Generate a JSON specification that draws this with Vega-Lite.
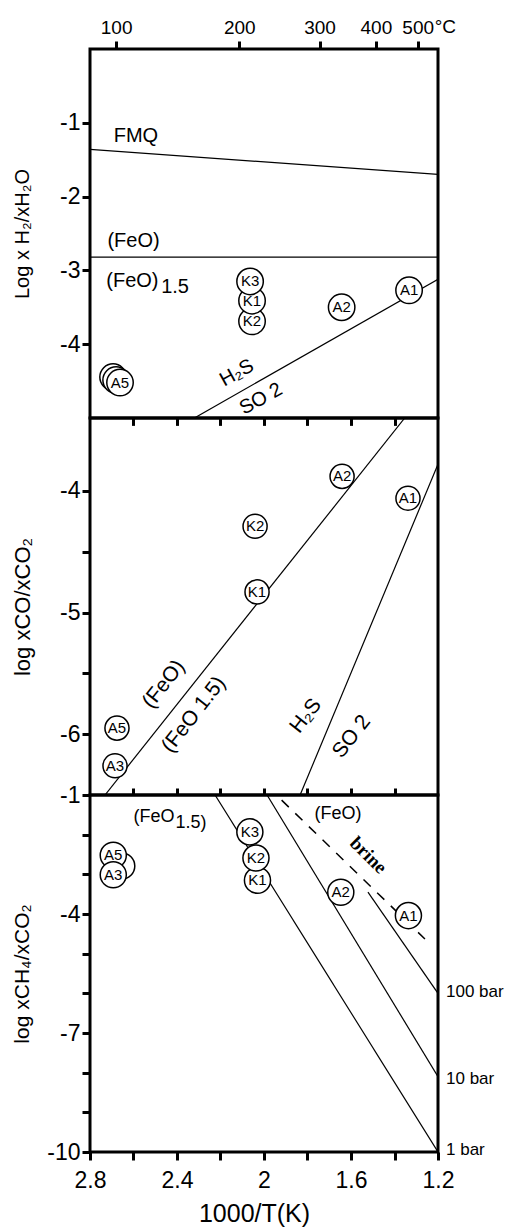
{
  "$schema": "https://vega.github.io/schema/vega-lite/v6.json",
  "background": "white",
  "padding": {"left": 9, "top": 16, "right": 0, "bottom": 0},
  "spacing": 0,
  "bounds": "flush",
  "resolve": {"scale": {"x": "independent", "y": "independent"}},
  "config": {
    "view": {"stroke": "black", "strokeWidth": 3},
    "font": "Liberation Sans",
    "axis": {"grid": false, "domain": false, "tickColor": "black", "tickWidth": 3, "tickSize": 8, "labelColor": "black", "titleColor": "black", "labelFont": "Liberation Sans", "titleFont": "Liberation Sans", "labelFontSize": 23, "titleFontWeight": "normal", "labelOverlap": false, "labelFlush": false, "labelPadding": 2}
  },
  "datasets": {
    "lines1": [
      {"id": "FMQ", "x": 2.8, "y": -1.36}, {"id": "FMQ", "x": 1.2, "y": -1.70},
      {"id": "FeO", "x": 2.8, "y": -2.82}, {"id": "FeO", "x": 1.2, "y": -2.82},
      {"id": "S", "x": 2.32, "y": -5}, {"id": "S", "x": 1.2, "y": -3.12}
    ],
    "pts1": [
      {"x": 2.694, "y": -4.445, "label": ""},
      {"x": 2.680, "y": -4.486, "label": ""},
      {"x": 2.662, "y": -4.52, "label": "A5"},
      {"x": 2.055, "y": -3.69, "label": "K2"},
      {"x": 2.055, "y": -3.41, "label": "K1"},
      {"x": 2.064, "y": -3.15, "label": "K3"},
      {"x": 1.643, "y": -3.50, "label": "A2"},
      {"x": 1.333, "y": -3.27, "label": "A1"}
    ],
    "lab1": [
      {"x": 2.589, "y": -1.18, "text": "FMQ"},
      {"x": 2.60, "y": -2.60, "text": "(FeO)"},
      {"x": 2.605, "y": -3.15, "text": "(FeO)"},
      {"x": 2.409, "y": -3.23, "text": "1.5"}
    ],
    "rot1": [
      {"x": 2.125, "y": -4.39, "text": "H₂S"},
      {"x": 2.014, "y": -4.74, "text": "SO 2"}
    ],
    "degC": [
      {"x": 1.2934, "y": 0, "text": "°C"}
    ],
    "lines2": [
      {"id": "Fe", "x": 2.731, "y": -6.5}, {"id": "Fe", "x": 1.353, "y": -3.4},
      {"id": "S", "x": 1.834, "y": -6.5}, {"id": "S", "x": 1.2, "y": -3.78}
    ],
    "pts2": [
      {"x": 2.676, "y": -5.95, "label": "A5"},
      {"x": 2.685, "y": -6.26, "label": "A3"},
      {"x": 2.041, "y": -4.29, "label": "K2"},
      {"x": 2.032, "y": -4.83, "label": "K1"},
      {"x": 1.641, "y": -3.88, "label": "A2"},
      {"x": 1.338, "y": -4.06, "label": "A1"}
    ],
    "rot2": [
      {"x": 2.460, "y": -5.59, "text": "(FeO)"},
      {"x": 2.322, "y": -5.84, "text": "(FeO 1.5)"},
      {"x": 1.807, "y": -5.85, "text": "H₂S"},
      {"x": 1.597, "y": -6.02, "text": "SO 2"}
    ],
    "lines3": [
      {"id": "1 bar", "x": 2.225, "y": -1}, {"id": "1 bar", "x": 1.2, "y": -10},
      {"id": "10 bar", "x": 1.986, "y": -1}, {"id": "10 bar", "x": 1.2, "y": -8.1},
      {"id": "100 bar", "x": 1.522, "y": -3.45}, {"id": "100 bar", "x": 1.2, "y": -6.0}
    ],
    "brine": [
      {"x": 1.919, "y": -1.13}, {"x": 1.26, "y": -4.63}
    ],
    "pts3": [
      {"x": 2.654, "y": -2.79, "label": ""},
      {"x": 2.693, "y": -2.52, "label": "A5"},
      {"x": 2.693, "y": -3.01, "label": "A3"},
      {"x": 2.03, "y": -3.15, "label": "K1"},
      {"x": 2.037, "y": -2.59, "label": "K2"},
      {"x": 2.065, "y": -1.93, "label": "K3"},
      {"x": 1.647, "y": -3.45, "label": "A2"},
      {"x": 1.336, "y": -4.04, "label": "A1"}
    ],
    "lab3": [
      {"x": 2.506, "y": -1.56, "text": "(FeO"},
      {"x": 2.336, "y": -1.71, "text": "1.5)"},
      {"x": 1.66, "y": -1.47, "text": "(FeO)"}
    ],
    "bars": [
      {"x": 1.2, "y": -5.97, "text": "100 bar"},
      {"x": 1.2, "y": -8.15, "text": "10 bar"},
      {"x": 1.2, "y": -9.96, "text": "1 bar"}
    ],
    "brinelab": [
      {"x": 1.52, "y": -2.52, "text": "brine"}
    ]
  },
  "vconcat": [
    {
      "width": 348,
      "height": 369,
      "encoding": {
        "x": {"field": "x", "type": "quantitative",
          "scale": {"domain": [1.2, 2.8], "reverse": true, "nice": false, "zero": false},
          "axis": {"orient": "top", "values": [2.6799, 2.1135, 1.7447, 1.4856, 1.2934],
            "labelExpr": "datum.value > 2.5 ? '100' : datum.value > 2 ? '200' : datum.value > 1.6 ? '300' : datum.value > 1.4 ? '400' : '500'",
            "labelFontSize": 19, "labelPadding": 4, "title": null}},
        "y": {"field": "y", "type": "quantitative",
          "scale": {"domain": [-5, 0], "nice": false, "zero": false},
          "axis": {"values": [-1, -2, -3, -4], "labelExpr": "'-' + abs(datum.value)",
            "title": "Log x H₂/xH₂O", "titleFontSize": 20, "titleX": -62, "titleBaseline": "alphabetic"}}
      },
      "layer": [
        {"data": {"name": "lines1"}, "mark": {"type": "line", "color": "black", "strokeWidth": 1.2, "clip": true},
          "encoding": {"detail": {"field": "id"}}},
        {"data": {"name": "pts1"}, "mark": {"type": "point", "shape": "circle", "filled": true, "fill": "white", "stroke": "black", "strokeWidth": 1.5, "size": 700, "opacity": 1}},
        {"data": {"name": "pts1"}, "mark": {"type": "text", "fontSize": 15, "color": "black", "align": "center", "baseline": "middle"},
          "encoding": {"text": {"field": "label"}}},
        {"data": {"name": "lab1"}, "mark": {"type": "text", "fontSize": 20, "color": "black", "align": "center", "baseline": "middle"},
          "encoding": {"text": {"field": "text"}}},
        {"data": {"name": "rot1"}, "mark": {"type": "text", "fontSize": 20, "color": "black", "align": "center", "baseline": "middle", "angle": -29},
          "encoding": {"text": {"field": "text"}}},
        {"data": {"name": "degC"}, "mark": {"type": "text", "fontSize": 19, "color": "black", "align": "left", "baseline": "middle", "dx": 17, "dy": -22, "clip": false},
          "encoding": {"text": {"field": "text"}}}
      ]
    },
    {
      "width": 348,
      "height": 377,
      "encoding": {
        "x": {"field": "x", "type": "quantitative",
          "scale": {"domain": [1.2, 2.8], "reverse": true, "nice": false, "zero": false},
          "axis": {"orient": "top", "values": [2.6, 2.4, 2.2, 2.0, 1.8, 1.6, 1.4], "labels": false, "tickSize": -7, "title": null}},
        "y": {"field": "y", "type": "quantitative",
          "scale": {"domain": [-6.5, -3.4], "nice": false, "zero": false},
          "axis": {"values": [-4, -4.5, -5, -5.5, -6], "labelExpr": "datum.value % 1 == 0 ? '-' + abs(datum.value) : ''",
            "title": "log xCO/xCO₂", "titleFontSize": 22, "titleX": -61, "titleBaseline": "alphabetic"}}
      },
      "layer": [
        {"data": {"name": "lines2"}, "mark": {"type": "line", "color": "black", "strokeWidth": 1.2, "clip": true},
          "encoding": {
            "detail": {"field": "id"},
            "x": {"field": "x", "type": "quantitative",
              "scale": {"domain": [1.2, 2.8], "reverse": true, "nice": false, "zero": false},
              "axis": {"orient": "bottom", "values": [2.6, 2.4, 2.2, 2.0, 1.8, 1.6, 1.4], "labels": false, "tickSize": -7, "title": null}}
          }},
        {"data": {"name": "pts2"}, "mark": {"type": "point", "shape": "circle", "filled": true, "fill": "white", "stroke": "black", "strokeWidth": 1.5, "size": 580, "opacity": 1}},
        {"data": {"name": "pts2"}, "mark": {"type": "text", "fontSize": 15, "color": "black", "align": "center", "baseline": "middle"},
          "encoding": {"text": {"field": "label"}}},
        {"data": {"name": "rot2"}, "mark": {"type": "text", "fontSize": 21, "color": "black", "align": "center", "baseline": "middle", "angle": -52},
          "encoding": {"text": {"field": "text"}}}
      ]
    },
    {
      "width": 348,
      "height": 357,
      "encoding": {
        "x": {"field": "x", "type": "quantitative",
          "scale": {"domain": [1.2, 2.8], "reverse": true, "nice": false, "zero": false},
          "axis": {"orient": "bottom", "values": [2.8, 2.6, 2.4, 2.2, 2.0, 1.8, 1.6, 1.4, 1.2],
            "labelExpr": "round(datum.value * 10) % 4 == 0 ? '' + datum.value : ''",
            "labelPadding": 9, "title": "1000/T(K)", "titleFontSize": 25, "titlePadding": 9, "titleX": 164}},
        "y": {"field": "y", "type": "quantitative",
          "scale": {"domain": [-10, -1], "nice": false, "zero": false},
          "axis": {"values": [-1, -2, -3, -4, -5, -6, -7, -8, -9, -10], "labelExpr": "(datum.value + 1) % 3 == 0 ? '-' + abs(datum.value) : ''",
            "title": "log xCH₄/xCO₂", "titleFontSize": 21, "titleX": -62, "titleBaseline": "alphabetic"}}
      },
      "layer": [
        {"data": {"name": "lines3"}, "mark": {"type": "line", "color": "black", "strokeWidth": 1.2, "clip": true},
          "encoding": {"detail": {"field": "id"}}},
        {"data": {"name": "brine"}, "mark": {"type": "line", "color": "black", "strokeWidth": 1.5, "strokeDash": [10, 9], "clip": true},
          "encoding": {}},
        {"data": {"name": "pts3"}, "mark": {"type": "point", "shape": "circle", "filled": true, "fill": "white", "stroke": "black", "strokeWidth": 1.5, "size": 680, "opacity": 1}},
        {"data": {"name": "pts3"}, "mark": {"type": "text", "fontSize": 15, "color": "black", "align": "center", "baseline": "middle"},
          "encoding": {"text": {"field": "label"}}},
        {"data": {"name": "lab3"}, "mark": {"type": "text", "fontSize": 18, "color": "black", "align": "center", "baseline": "middle"},
          "encoding": {"text": {"field": "text"}}},
        {"data": {"name": "bars"}, "mark": {"type": "text", "fontSize": 17, "color": "black", "align": "left", "baseline": "middle", "dx": 8},
          "encoding": {"text": {"field": "text"}}},
        {"data": {"name": "brinelab"}, "mark": {"type": "text", "fontSize": 19, "font": "Liberation Serif", "fontWeight": "bold", "color": "black", "align": "center", "baseline": "middle", "angle": 45},
          "encoding": {"text": {"field": "text"}}}
      ]
    }
  ]
}
